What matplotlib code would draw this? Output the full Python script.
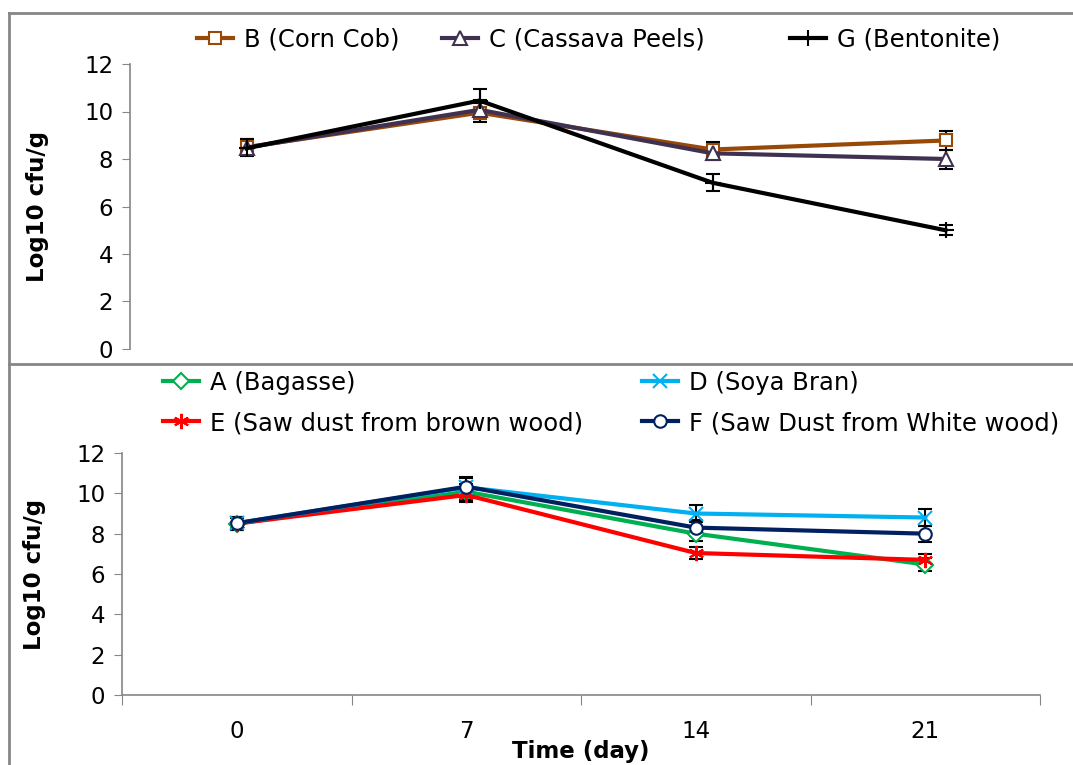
import matplotlib.pyplot as plt
from matplotlib.lines import Line2D

days = ["0", "7", "14", "21"]

# top panel
corn_cob = [8.5, 9.95, 8.4, 8.78]
corn_cob_err = [0.35, 0.4, 0.3, 0.42]
cassava = [8.48, 10.07, 8.24, 8.0]
cassava_err = [0.35, 0.4, 0.3, 0.4]
bentonite = [8.45, 10.46, 7.0, 5.0]
bentonite_err = [0.3, 0.5, 0.35, 0.22]

# bottom panel
bagasse = [8.5, 10.08, 8.0, 6.47]
bagasse_err = [0.3, 0.4, 0.35, 0.3]
soya = [8.52, 10.3, 9.0, 8.8]
soya_err = [0.3, 0.45, 0.4, 0.4]
brown_wood = [8.5, 9.92, 7.04, 6.7]
brown_wood_err = [0.3, 0.35, 0.3, 0.3]
white_wood = [8.52, 10.33, 8.3, 8.0]
white_wood_err = [0.3, 0.5, 0.4, 0.4]

W, H = 1073, 765
FS = 16.5
LFS = 17.5
GRAY = "#868686"

fig = plt.figure(figsize=(W / 100, H / 100), dpi=100)


def fx(px):
    return px / W


def fy(py):
    return 1 - py / H


# outer boxes
fig.add_artist(Line2D([fx(9), fx(9)], [fy(13), 0], color=GRAY, lw=2))
fig.add_artist(Line2D([fx(9), 1], [fy(13), fy(13)], color=GRAY, lw=2))
fig.add_artist(Line2D([fx(9), 1], [fy(364), fy(364)], color=GRAY, lw=2))


def series(ax, y, err, color, marker, label, ms=9, mfc="white"):
    x = range(len(y))
    ax.errorbar(x, y, yerr=err, fmt="none", ecolor="black", elinewidth=1.5,
                capsize=5, capthick=1.5, zorder=2)
    line, = ax.plot(x, y, color=color, lw=3, marker=marker, ms=ms, mfc=mfc,
                    mec=color, mew=1.5, label=label, zorder=3)
    return line


def style(ax, show_x):
    ax.set_ylim(0, 12)
    ax.set_yticks(range(0, 13, 2))
    ax.set_xlim(-0.5, 3.5)
    for s in ["top", "right"]:
        ax.spines[s].set_visible(False)
    ax.spines["left"].set_color(GRAY)
    ax.spines["left"].set_linewidth(1.2)
    ax.tick_params(axis="y", direction="out", length=6, color=GRAY,
                   labelsize=FS, pad=6)
    ax.set_ylabel("Log10 cfu/g", fontsize=FS, fontweight="bold")
    if show_x:
        ax.spines["bottom"].set_color(GRAY)
        ax.spines["bottom"].set_linewidth(1.2)
        ax.set_xticks([-0.5, 0.5, 1.5, 2.5, 3.5])
        ax.set_xticklabels([])
        ax.set_xticks(range(len(days)), minor=True)
        ax.set_xticklabels(days, minor=True)
        ax.tick_params(axis="x", which="major", direction="out", length=7,
                       color=GRAY)
        ax.tick_params(axis="x", which="minor", length=0, labelsize=FS, pad=18)
        ax.set_xlabel("Time (day)", fontsize=FS, fontweight="bold", labelpad=-2)
    else:
        ax.spines["bottom"].set_visible(False)
        ax.set_xticks([])


def entry(line, x, y):
    fig.legend(handles=[line], labels=[line.get_label()], loc="center left",
               bbox_to_anchor=(fx(x), fy(y)), frameon=False, fontsize=LFS,
               handlelength=1.5, handletextpad=0.45, borderpad=0,
               borderaxespad=0)


ax1 = fig.add_axes([fx(130), fy(349), fx(1062) - fx(130), fy(64) - fy(349)])
b = series(ax1, corn_cob, corn_cob_err, "#984807", "s", "B (Corn Cob)")
c = series(ax1, cassava, cassava_err, "#403151", "^", "C (Cassava Peels)", ms=10)
g = series(ax1, bentonite, bentonite_err, "black", "+", "G (Bentonite)", ms=12)
style(ax1, False)
entry(b, 197, 40)
entry(c, 442, 40)
entry(g, 790, 40)

ax2 = fig.add_axes([fx(122), fy(695), fx(1040) - fx(122), fy(453) - fy(695)])
a = series(ax2, bagasse, bagasse_err, "#00B050", "D", "A (Bagasse)", ms=8)
e = series(ax2, brown_wood, brown_wood_err, "#FF0000", (6, 2, 0),
           "E (Saw dust from brown wood)", ms=11)
d = series(ax2, soya, soya_err, "#00B0F0", "x", "D (Soya Bran)", ms=10)
f = series(ax2, white_wood, white_wood_err, "#002060", "o",
           "F (Saw Dust from White wood)", ms=9)
style(ax2, True)
entry(a, 163, 383)
entry(d, 642, 383)
entry(e, 163, 423)
entry(f, 642, 423)

# y label positions in figure pixels
ax1.yaxis.set_label_coords(fx(49), fy(206), transform=fig.transFigure)
ax2.yaxis.set_label_coords(fx(46), fy(575), transform=fig.transFigure)

fig.savefig("out.png", dpi=100)
